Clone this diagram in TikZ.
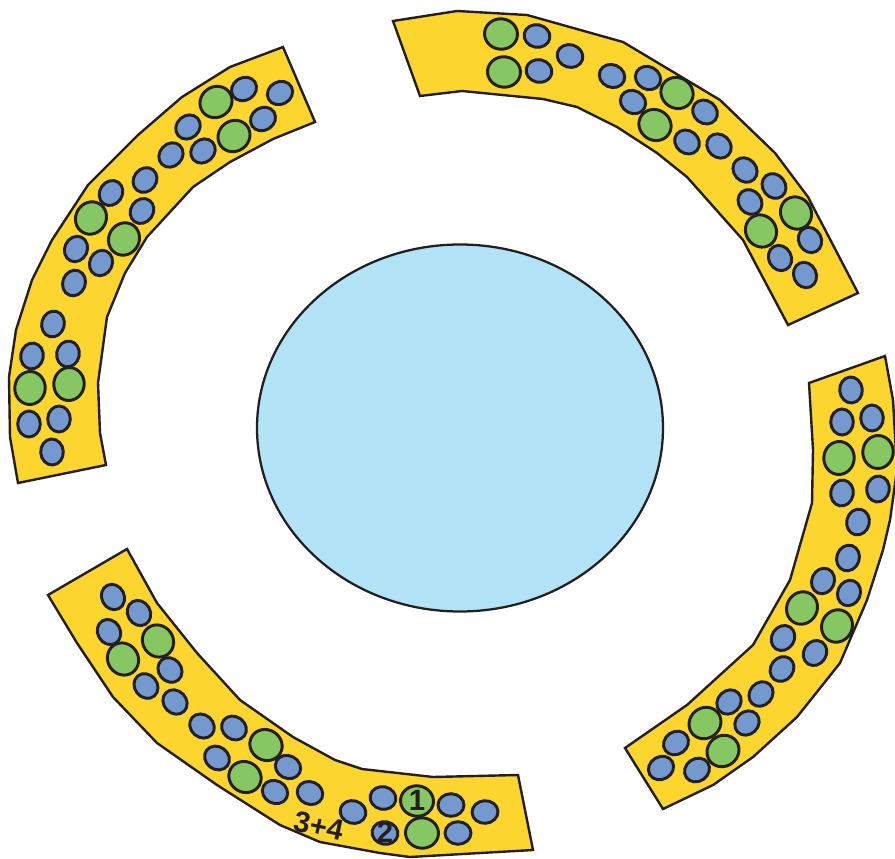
\documentclass[tikz,border=0pt]{standalone}
\usepackage{fontspec}
\newfontfamily\lblfont{Liberation Sans}
\definecolor{cyel}{HTML}{FCD62F}
\definecolor{cblu}{HTML}{7399CE}
\definecolor{cgrn}{HTML}{86C663}
\definecolor{csky}{HTML}{B3E3F6}
\definecolor{cink}{HTML}{231F20}
\newcommand\blob[2]{\pgfmathsetmacro\ang{atan2(428-#2,#1-460)+90}%
  \draw[ellout,fill=cblu] (#1,#2) ellipse [x radius=13, y radius=11.3, rotate=\ang];}
\newcommand\gblob[2]{\pgfmathsetmacro\ang{atan2(428-#2,#1-460)+90}%
  \draw[ellout,fill=cgrn] (#1,#2) ellipse [x radius=16.5, y radius=15.2, rotate=\ang];}
\begin{document}
\begin{tikzpicture}[x=0.75pt,y=-0.75pt,
  band/.style={draw=cink,line width=1.8pt,fill=cyel},
  ellout/.style={draw=cink,line width=2.2pt},
  lbl/.style={font=\lblfont\bfseries\fontsize{22}{22}\selectfont,text=cink,inner sep=0pt}]
\useasboundingbox (0,0) rectangle (895,859);
% centre
\draw[draw=cink,line width=1.7pt,fill=csky] (460,428) ellipse [x radius=203, y radius=183.5];
% band top-left
\draw[band] (283,47) -- (230,67) -- (182,97) -- (138,135) -- (88,185) -- (52,240) -- (32,280) -- (16,330) -- (9,377) -- (10,437) -- (18,483)
  -- (106,465) -- (100,433) -- (98,383) -- (107,317) -- (125,273) -- (147,237) -- (193,187) -- (230,162) -- (273,139) -- (315,122) -- cycle;
% band top-right
\draw[band] (393,21) -- (457,11) -- (527,15) -- (623,42) -- (720,100) -- (775,153) -- (808,197) -- (858,293)
  -- (788,325) -- (743,240) -- (687,177) -- (657,153) -- (617,127) -- (577,107) -- (543,99) -- (462,91) -- (420,96) -- cycle;
% band right
\draw[band] (885,356) -- (893,400) -- (897,470) -- (890,520) -- (883,550) -- (867,600) -- (840,663) -- (797,717) -- (753,757) -- (713,785) -- (663,809)
  -- (625,748) -- (687,705) -- (753,645) -- (790,580) -- (812,503) -- (813,450) -- (809,383) -- cycle;
% band bottom-left
\draw[band] (48,595) -- (77,643) -- (113,697) -- (157,743) -- (217,785) -- (280,825) -- (320,842) -- (380,853) -- (410,857) -- (533,850)
  -- (518,775) -- (433,777) -- (362,769) -- (335,760) -- (293,737) -- (240,700) -- (197,653) -- (157,603) -- (127,549) -- cycle;
% dots band top-left
\blob{280}{93}\blob{244}{89}\gblob{216}{102}\blob{263}{119}\gblob{234}{136}
\blob{188}{127}\blob{203}{151}\blob{171}{155}\blob{145}{180}\blob{111}{193}
\blob{142}{211}\gblob{91}{218}\gblob{124}{239}\blob{76}{249}\blob{101}{263}
\blob{74}{283}\blob{53}{324}\blob{32}{356}\blob{68}{354}\gblob{30}{388}
\gblob{69}{384}\blob{29}{424}\blob{59}{419}\blob{52}{452}
% dots band top-right
\gblob{501}{34}\blob{537}{36}\gblob{504}{72}\blob{539}{71}\blob{570}{56}
\blob{612}{76}\blob{648}{78}\gblob{677}{93}\blob{633}{102}\blob{705}{112}
\gblob{655}{125}\blob{687}{142}\blob{719}{146}\blob{745}{170}\blob{774}{186}
\blob{750}{202}\gblob{796}{213}\gblob{761}{231}\blob{810}{240}\blob{780}{258}
\blob{805}{275}
% dots band right
\blob{851}{390}\blob{842}{422}\blob{872}{418}\gblob{839}{458}\gblob{878}{452}
\blob{842}{493}\blob{878}{489}\blob{858}{522}\blob{848}{558}\blob{823}{581}
\blob{849}{593}\gblob{802}{608}\gblob{837}{626}\blob{783}{638}\blob{815}{653}
\blob{782}{669}\blob{761}{694}\blob{729}{702}\gblob{705}{723}\blob{747}{723}
\gblob{723}{751}\blob{676}{743}\blob{661}{768}\blob{697}{770}
% dots band bottom-left
\blob{113}{597}\blob{139}{613}\blob{109}{632}\gblob{158}{641}\gblob{123}{659}
\blob{170}{670}\blob{146}{686}\blob{175}{702}\blob{202}{726}\blob{234}{728}
\gblob{266}{745}\blob{217}{758}\blob{288}{767}\gblob{245}{777}\blob{275}{792}
\blob{310}{793}\blob{353}{812}\blob{383}{798}\gblob{417}{801}\blob{451}{805}
\blob{485}{812}\blob{385}{833}\gblob{422}{833}\blob{458}{833}
% labels
\node[lbl] (one) at (417,800) {1};
\node[lbl] (two) at (385,832) {2};
\node[lbl,rotate=-12] (tf) at (319,826) {3+4};
\end{tikzpicture}
\end{document}
